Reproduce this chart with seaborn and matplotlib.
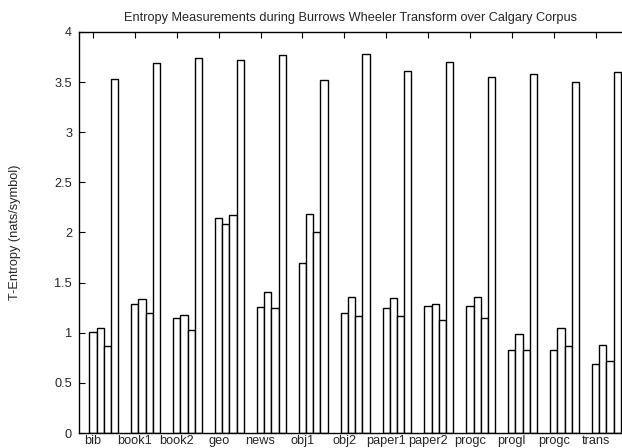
import matplotlib
matplotlib.use("Agg")
import matplotlib.pyplot as plt
import seaborn as sns
import numpy as np
import pandas as pd

categories = ["bib", "book1", "book2", "geo", "news", "obj1", "obj2",
              "paper1", "paper2", "progc", "progl", "progc", "trans"]
series_a = [1.01, 1.29, 1.15, 2.14, 1.26, 1.70, 1.20, 1.25, 1.27, 1.27, 0.83, 0.83, 0.69]
series_b = [1.05, 1.34, 1.18, 2.08, 1.41, 2.18, 1.36, 1.35, 1.29, 1.36, 0.99, 1.05, 0.88]
series_c = [0.87, 1.20, 1.03, 2.17, 1.25, 2.00, 1.17, 1.17, 1.13, 1.15, 0.83, 0.87, 0.72]
series_d = [3.53, 3.69, 3.74, 3.72, 3.77, 3.52, 3.78, 3.61, 3.70, 3.55, 3.58, 3.50, 3.60]
series_names = ["s1", "s2", "s3", "s4"]

rows = []
for idx, cat in enumerate(categories):
    for name, vals in zip(series_names, [series_a, series_b, series_c, series_d]):
        rows.append({"pos": idx, "series": name, "value": vals[idx]})
df = pd.DataFrame(rows)

sns.set_style("ticks")
plt.rcParams["font.family"] = ["Liberation Sans", "DejaVu Sans"]

fig = plt.figure(figsize=(6.22, 4.48), dpi=100)
ax = fig.add_axes([79 / 622, 15 / 448, 543 / 622, 401 / 448])

bw = 0.172
group_w = bw * 4
sns.barplot(data=df, x="pos", y="value", hue="series", order=list(range(len(categories))),
            palette=["white"] * 4, edgecolor="black", linewidth=1.0,
            width=group_w, dodge=True, legend=False, ax=ax, errorbar=None)

shift = 1.5 * bw
ticks = np.arange(len(categories)) - shift
fs = 9.2
ax.set_xticks(ticks)
ax.set_xticklabels(categories, fontsize=fs)
ax.set_xlim(-0.334 - shift, 12.63 - shift)
ax.set_ylim(0, 4)
ax.set_yticks(np.arange(0, 4.01, 0.5))
ax.set_yticklabels(["0", "0.5", "1", "1.5", "2", "2.5", "3", "3.5", "4"], fontsize=fs)
ax.tick_params(axis="both", direction="in", length=4, width=0.8, color="black",
               top=True, right=False)
ax.tick_params(axis="y", pad=5)
ax.tick_params(axis="x", pad=1.5)
ax.set_xlabel("")
ax.set_ylabel("T-Entropy (nats/symbol)", fontsize=fs, labelpad=24)
ax.set_title("Entropy Measurements during Burrows Wheeler Transform over Calgary Corpus",
             fontsize=fs, pad=8)
for side in ["left", "top", "bottom"]:
    ax.spines[side].set_visible(True)
    ax.spines[side].set_color("black")
    ax.spines[side].set_linewidth(1.0)
ax.spines["right"].set_visible(False)

fig.savefig("out.png", dpi=100)
